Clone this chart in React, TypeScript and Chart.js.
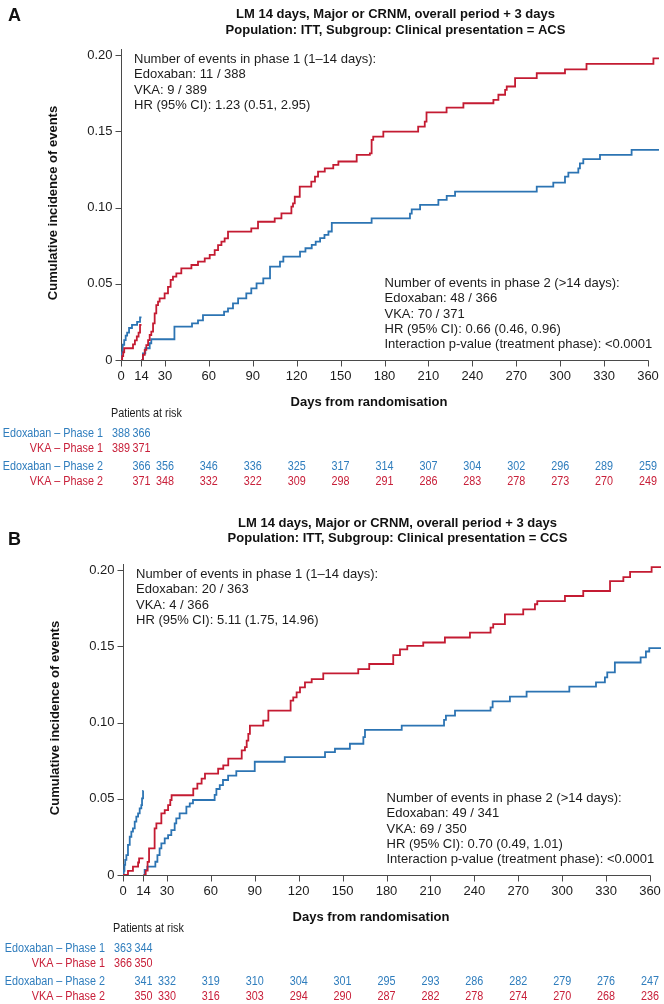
import React, { useEffect, useRef } from 'react';
import { Chart, registerables } from 'chart.js';

Chart.register(...registerables);

// ---------- shared axis data ----------
const X_TICKS = [0, 14, 30, 60, 90, 120, 150, 180, 210, 240, 270, 300, 330, 360];
const Y_TICKS = [0, 0.05, 0.1, 0.15, 0.2];
const Y_TICK_LABELS = ['0', '0.05', '0.10', '0.15', '0.20'];
const X_TITLE = 'Days from randomisation';
const Y_TITLE = 'Cumulative incidence of events';
const RISK_TITLE = 'Patients at risk';
const RISK_DAYS_P1 = [0, 14];
const RISK_DAYS_P2 = [14, 30, 60, 90, 120, 150, 180, 210, 240, 270, 300, 330, 360];
const RISK_LABELS = ['Edoxaban \u2013 Phase 1', 'VKA \u2013 Phase 1', 'Edoxaban \u2013 Phase 2', 'VKA \u2013 Phase 2'];

// ---------- panel A (ACS) ----------
const A_TITLE = ['LM 14 days, Major or CRNM, overall period + 3 days', 'Population: ITT, Subgroup: Clinical presentation = ACS'];
const A_NOTE1 = ['Number of events in phase 1 (1\u201314 days):', 'Edoxaban: 11 / 388', 'VKA: 9 / 389', 'HR (95% CI): 1.23 (0.51, 2.95)'];
const A_NOTE2 = ['Number of events in phase 2 (>14 days):', 'Edoxaban: 48 / 366', 'VKA: 70 / 371', 'HR (95% CI): 0.66 (0.46, 0.96)', 'Interaction p-value (treatment phase): <0.0001'];

const A_EDOX_P1_DAYS = [0, 0.4, 1.2, 2.2, 3.2, 4.2, 5.5, 7.5, 11, 13, 14];
const A_EDOX_P1_VALS = [0, 0.005, 0.01, 0.013, 0.016, 0.018, 0.021, 0.023, 0.025, 0.028, 0.028];
const A_VKA_P1_DAYS = [0, 0.8, 1.5, 2.2, 8.2, 9.5, 10.8, 12, 13, 14];
const A_VKA_P1_VALS = [0, 0.0026, 0.0051, 0.0077, 0.0103, 0.0129, 0.0154, 0.018, 0.0231, 0.0231];

const A_EDOX_P2_DAYS = [14, 15, 16.6, 19.6, 20.7, 36.5, 48.5, 52.6, 56, 70.4, 73.1, 76.5, 80, 85.6, 89, 92.6, 97.2, 101.8, 108.6, 110.9, 122.3, 126, 130.3, 133, 136, 139, 141.7, 144, 171.2, 197.4, 198.6, 204.3, 216.8, 222.5, 228.2, 284, 295.3, 303.3, 305.6, 312.4, 313.5, 315.8, 327.2, 348.8, 367.5];
const A_EDOX_P2_VALS = [0, 0.0044, 0.0077, 0.011, 0.0136, 0.0219, 0.024, 0.026, 0.0295, 0.0317, 0.0339, 0.0372, 0.0404, 0.0437, 0.047, 0.0503, 0.0536, 0.0612, 0.0645, 0.0678, 0.0711, 0.0733, 0.0755, 0.0777, 0.0799, 0.0821, 0.0843, 0.09, 0.0929, 0.096, 0.0988, 0.1017, 0.105, 0.1076, 0.1105, 0.1137, 0.1163, 0.1203, 0.1229, 0.1257, 0.129, 0.1317, 0.1345, 0.1378, 0.1378];

const A_VKA_P2_DAYS = [14, 15, 16.2, 17.3, 18.5, 19.6, 20.7, 21.9, 23, 24.1, 25.3, 26.4, 29.8, 32.1, 33.9, 35.5, 37.8, 41.2, 48.1, 52.6, 57.2, 60.6, 64, 66.3, 68.6, 70.8, 73.1, 89, 93.6, 105, 109.6, 116.4, 117.5, 118.7, 122.1, 130, 132.5, 134.6, 139.2, 145, 148.5, 161, 170, 171.2, 172.3, 179.2, 203, 207.5, 208.7, 222.4, 233.9, 254.4, 257.8, 262.4, 263.5, 269.2, 284, 303.3, 318, 363.7, 367.5];
const A_VKA_P2_VALS = [0, 0.0033, 0.0066, 0.0098, 0.0131, 0.0164, 0.0186, 0.024, 0.0306, 0.036, 0.0383, 0.0404, 0.0437, 0.048, 0.0525, 0.0547, 0.0568, 0.0601, 0.0623, 0.0645, 0.0667, 0.0689, 0.0721, 0.0754, 0.0776, 0.0798, 0.0842, 0.0864, 0.0907, 0.0929, 0.0962, 0.1006, 0.1028, 0.1071, 0.1137, 0.117, 0.1203, 0.1235, 0.1257, 0.128, 0.1302, 0.1345, 0.1356, 0.1444, 0.1465, 0.1498, 0.1531, 0.1564, 0.1624, 0.1655, 0.1684, 0.1706, 0.174, 0.1772, 0.1794, 0.1849, 0.1881, 0.1907, 0.1942, 0.1979, 0.1979];

const A_RISK_EDOX_P1 = [388, 366];
const A_RISK_VKA_P1 = [389, 371];
const A_RISK_EDOX_P2 = [366, 356, 346, 336, 325, 317, 314, 307, 304, 302, 296, 289, 259];
const A_RISK_VKA_P2 = [371, 348, 332, 322, 309, 298, 291, 286, 283, 278, 273, 270, 249];

// ---------- panel B (CCS) ----------
const B_TITLE = ['LM 14 days, Major or CRNM, overall period + 3 days', 'Population: ITT, Subgroup: Clinical presentation = CCS'];
const B_NOTE1 = ['Number of events in phase 1 (1\u201314 days):', 'Edoxaban: 20 / 363', 'VKA: 4 / 366', 'HR (95% CI): 5.11 (1.75, 14.96)'];
const B_NOTE2 = ['Number of events in phase 2 (>14 days):', 'Edoxaban: 49 / 341', 'VKA: 69 / 350', 'HR (95% CI): 0.70 (0.49, 1.01)', 'Interaction p-value (treatment phase): <0.0001'];

const B_EDOX_P1_DAYS = [0, 0.5, 1, 1.5, 2.3, 3.4, 4.6, 5.7, 6.8, 8, 9.1, 10.3, 11.4, 12.5, 13, 13.7, 14];
const B_EDOX_P1_VALS = [0, 0.0028, 0.0066, 0.0099, 0.0131, 0.0197, 0.0251, 0.0284, 0.0306, 0.035, 0.0383, 0.0404, 0.0437, 0.0459, 0.0503, 0.0551, 0.0551];
const B_VKA_P1_DAYS = [0, 3.4, 6.8, 10.3, 11, 14];
const B_VKA_P1_VALS = [0, 0.0027, 0.0055, 0.0082, 0.0109, 0.0109];

const B_EDOX_P2_DAYS = [14, 14.8, 16.6, 22.1, 23.5, 25, 26.2, 28.5, 30.8, 33, 35.3, 36.4, 38.7, 43.3, 45.6, 47.8, 62.6, 63.8, 66.1, 68.3, 71.8, 77.4, 90, 110.5, 138, 144.8, 155, 164.2, 165.3, 190.4, 219.3, 220.6, 226.8, 251.1, 252.5, 264.3, 275.7, 304.9, 323.1, 329.2, 330.8, 336, 353.6, 357.2, 359.5, 367.5];
const B_EDOX_P2_VALS = [0, 0.0033, 0.0055, 0.0087, 0.0131, 0.0175, 0.0208, 0.024, 0.0262, 0.0295, 0.0339, 0.0372, 0.0404, 0.0448, 0.047, 0.0492, 0.0525, 0.0564, 0.059, 0.0623, 0.0652, 0.0682, 0.0743, 0.0773, 0.0806, 0.0828, 0.0861, 0.0904, 0.0952, 0.098, 0.1017, 0.1046, 0.1078, 0.11, 0.1139, 0.117, 0.1203, 0.1235, 0.1264, 0.1296, 0.1329, 0.1394, 0.1427, 0.1466, 0.1488, 0.1488];

const B_VKA_P2_DAYS = [14, 15.5, 16.8, 17.8, 21.6, 22.8, 26.2, 28.5, 30.8, 32.3, 33.2, 48, 50.8, 53.7, 56, 65, 68.5, 71.9, 81.1, 83.3, 84.5, 85.6, 86.7, 95.8, 99.3, 114.5, 116.3, 118.6, 120.9, 124.3, 128.9, 136.8, 160.7, 168.2, 184.6, 189.2, 194.2, 205.1, 219.9, 237, 251.1, 252.9, 260.9, 273.4, 281.4, 283, 301.9, 314.4, 332.7, 341.8, 346.4, 361.1, 367.5];
const B_VKA_P2_VALS = [0, 0.0029, 0.0086, 0.0175, 0.0306, 0.0339, 0.0404, 0.0426, 0.0459, 0.0492, 0.0523, 0.0566, 0.06, 0.0632, 0.0665, 0.0697, 0.0719, 0.0763, 0.0817, 0.0839, 0.0882, 0.0926, 0.098, 0.1013, 0.1078, 0.1144, 0.1165, 0.1198, 0.1231, 0.1264, 0.1285, 0.1322, 0.1351, 0.1384, 0.1442, 0.148, 0.1503, 0.1525, 0.1558, 0.159, 0.1623, 0.1645, 0.171, 0.1743, 0.1776, 0.1797, 0.183, 0.1863, 0.1928, 0.1954, 0.1989, 0.202, 0.202];

const B_RISK_EDOX_P1 = [363, 344];
const B_RISK_VKA_P1 = [366, 350];
const B_RISK_EDOX_P2 = [341, 332, 319, 310, 304, 301, 295, 293, 286, 282, 279, 276, 247];
const B_RISK_VKA_P2 = [350, 330, 316, 303, 294, 290, 287, 282, 278, 274, 270, 268, 236];

// ---------- styling / layout ----------
const W = 664;
const FONT = "'Liberation Sans', Arial, Helvetica, sans-serif";
const BLUE = '#2c74b3';
const RED = '#c41b32';
const BLUE_TXT = '#2f7dbd';
const RED_TXT = '#c8203a';
const INK = '#1c1c1c';
const AXIS = '#4a4a4a';
const X_MAX = 368;
const Y_MAX = 0.204;
const PX_PER_DAY = 527 / 360;
const PLOT_TOP = 49;
const PLOT_BOTTOM = 360;

interface Series { days: number[]; vals: number[]; color: string }
interface RiskRow { label: string; color: string; days: number[]; counts: number[]; y: number }
interface Panel {
  letter: string; letterY: number; title: string[]; titleY: number[];
  left: number; top: number; height: number;
  series: Series[]; note1: string[]; note2: string[]; risk: RiskRow[];
}

function riskRows(e1: number[], v1: number[], e2: number[], v2: number[]): RiskRow[] {
  return [
    { label: RISK_LABELS[0], color: BLUE_TXT, days: RISK_DAYS_P1, counts: e1, y: 433.5 },
    { label: RISK_LABELS[1], color: RED_TXT, days: RISK_DAYS_P1, counts: v1, y: 448.5 },
    { label: RISK_LABELS[2], color: BLUE_TXT, days: RISK_DAYS_P2, counts: e2, y: 466.5 },
    { label: RISK_LABELS[3], color: RED_TXT, days: RISK_DAYS_P2, counts: v2, y: 482 },
  ];
}

const PANELS: Panel[] = [
  {
    letter: 'A', letterY: 16, title: A_TITLE, titleY: [14.5, 30.5], left: 121, top: 0, height: 515,
    series: [
      { days: A_VKA_P1_DAYS, vals: A_VKA_P1_VALS, color: RED },
      { days: A_EDOX_P1_DAYS, vals: A_EDOX_P1_VALS, color: BLUE },
      { days: A_VKA_P2_DAYS, vals: A_VKA_P2_VALS, color: RED },
      { days: A_EDOX_P2_DAYS, vals: A_EDOX_P2_VALS, color: BLUE },
    ],
    note1: A_NOTE1, note2: A_NOTE2,
    risk: riskRows(A_RISK_EDOX_P1, A_RISK_VKA_P1, A_RISK_EDOX_P2, A_RISK_VKA_P2),
  },
  {
    letter: 'B', letterY: 25, title: B_TITLE, titleY: [8.5, 23.5], left: 123, top: 515, height: 489,
    series: [
      { days: B_VKA_P1_DAYS, vals: B_VKA_P1_VALS, color: RED },
      { days: B_EDOX_P1_DAYS, vals: B_EDOX_P1_VALS, color: BLUE },
      { days: B_VKA_P2_DAYS, vals: B_VKA_P2_VALS, color: RED },
      { days: B_EDOX_P2_DAYS, vals: B_EDOX_P2_VALS, color: BLUE },
    ],
    note1: B_NOTE1, note2: B_NOTE2,
    risk: riskRows(B_RISK_EDOX_P1, B_RISK_VKA_P1, B_RISK_EDOX_P2, B_RISK_VKA_P2),
  },
];

function txt(ctx: CanvasRenderingContext2D, s: string, x: number, y: number, font: string, color: string,
  align: CanvasTextAlign = 'left', sx = 1) {
  ctx.save();
  ctx.font = font;
  ctx.fillStyle = color;
  ctx.textAlign = align;
  ctx.textBaseline = 'middle';
  ctx.translate(x, y);
  if (sx !== 1) ctx.scale(sx, 1);
  ctx.fillText(s, 0, 0);
  ctx.restore();
}

function decor(p: Panel) {
  return {
    id: 'decor' + p.letter,
    beforeDatasetsDraw(chart: any) {
      const { ctx } = chart;
      const xs = chart.scales.x;
      const ys = chart.scales.y;
      const x0 = Math.round(xs.getPixelForValue(0)) + 0.5;
      const y0 = Math.round(ys.getPixelForValue(0)) + 0.5;
      ctx.save();
      ctx.strokeStyle = AXIS;
      ctx.lineWidth = 1;
      ctx.beginPath();
      ctx.moveTo(x0, y0);
      ctx.lineTo(x0, ys.getPixelForValue(Y_MAX));
      ctx.moveTo(x0, y0);
      ctx.lineTo(Math.round(xs.getPixelForValue(360)) + 0.5, y0);
      Y_TICKS.forEach((v) => {
        const py = Math.round(ys.getPixelForValue(v)) + 0.5;
        ctx.moveTo(x0 - 6, py);
        ctx.lineTo(x0, py);
      });
      X_TICKS.forEach((d) => {
        const px = Math.round(xs.getPixelForValue(d)) + 0.5;
        ctx.moveTo(px, y0);
        ctx.lineTo(px, y0 + 6);
      });
      ctx.stroke();
      ctx.restore();
    },
    afterDraw(chart: any) {
      const { ctx } = chart;
      const xs = chart.scales.x;
      const ys = chart.scales.y;
      const L = p.left;
      const f13 = `13px ${FONT}`;
      const b13 = `bold 13px ${FONT}`;
      // panel letter and title
      txt(ctx, p.letter, 8, p.letterY, `bold 18px ${FONT}`, '#111');
      p.title.forEach((t, i) => txt(ctx, t, L + 274.5, p.titleY[i], b13, '#111', 'center'));
      // tick labels
      Y_TICKS.forEach((v, i) => txt(ctx, Y_TICK_LABELS[i], L - 8.5, ys.getPixelForValue(v), f13, INK, 'right'));
      X_TICKS.forEach((d) => txt(ctx, String(d), xs.getPixelForValue(d), 376, f13, INK, 'center'));
      // axis titles
      txt(ctx, X_TITLE, L + 248, 402, b13, '#111', 'center');
      ctx.save();
      ctx.translate(L - 67.5, 203);
      ctx.rotate(-Math.PI / 2);
      txt(ctx, Y_TITLE, 0, 0, b13, '#111', 'center');
      ctx.restore();
      // annotations
      p.note1.forEach((t, i) => txt(ctx, t, L + 13, 59.5 + i * 15.27, f13, INK));
      p.note2.forEach((t, i) => txt(ctx, t, L + 263.5, 283.5 + i * 15.27, f13, INK));
      // risk table
      const f12 = `12px ${FONT}`;
      txt(ctx, RISK_TITLE, L - 10, 414, f12, INK, 'left', 0.9);
      p.risk.forEach((r) => {
        txt(ctx, r.label, L - 18, r.y, f12, r.color, 'right', 0.9);
        r.days.forEach((d, i) => txt(ctx, String(r.counts[i]), xs.getPixelForValue(d), r.y, f12, r.color, 'center', 0.9));
      });
    },
  };
}

function PanelChart({ p }: { p: Panel }) {
  const ref = useRef<HTMLCanvasElement>(null);
  useEffect(() => {
    const canvas = ref.current;
    if (!canvas) return;
    const chart = new Chart(canvas, {
      type: 'line',
      data: {
        datasets: p.series.map((s) => ({
          data: s.days.map((d, i) => ({ x: d, y: s.vals[i] })),
          borderColor: s.color,
          backgroundColor: s.color,
          borderWidth: 1.8,
          pointRadius: 0,
          stepped: true,
          fill: false,
          tension: 0,
          borderJoinStyle: 'miter',
          borderCapStyle: 'butt',
        })),
      },
      options: {
        responsive: false,
        maintainAspectRatio: false,
        animation: false,
        devicePixelRatio: 1,
        events: [],
        layout: {
          padding: {
            left: p.left,
            right: W - p.left - X_MAX * PX_PER_DAY,
            top: PLOT_TOP,
            bottom: p.height - PLOT_BOTTOM,
          },
        },
        scales: {
          x: { type: 'linear', display: false, min: 0, max: X_MAX },
          y: { type: 'linear', display: false, min: 0, max: Y_MAX },
        },
        plugins: { legend: { display: false }, tooltip: { enabled: false }, title: { display: false } },
      } as any,
      plugins: [decor(p)],
    });
    return () => chart.destroy();
  }, [p]);
  return (
    <canvas
      ref={ref}
      width={W}
      height={p.height}
      style={{ position: 'absolute', left: 0, top: p.top, width: W, height: p.height }}
    />
  );
}

export default function App() {
  return (
    <div style={{ position: 'absolute', left: 0, top: 0, width: W, height: 1004, background: '#fff' }}>
      {PANELS.map((p) => (
        <PanelChart key={p.letter} p={p} />
      ))}
    </div>
  );
}
